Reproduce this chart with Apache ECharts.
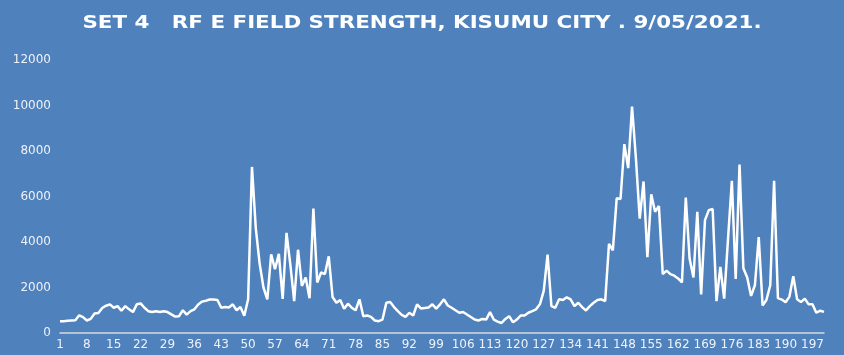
<!DOCTYPE html>
<html>
<head>
<meta charset="utf-8">
<script src="https://cdn.jsdelivr.net/npm/echarts@6/dist/echarts.min.js"></script>
<style>html,body{margin:0;padding:0;background:#4f81bd;}#c{width:844px;height:355px;}</style>
</head>
<body>
<div id="c"></div>
<script>
const titleText = 'SET 4   RF E FIELD STRENGTH, KISUMU CITY . 9/05/2021.';
const categories = [];
for (let i = 1; i <= 200; i++) categories.push(String(i));
const yTicks = [0, 2000, 4000, 6000, 8000, 10000, 12000];
const values1 = [520,520,540,550,560,780,700,550,620,860,880,1100,1200,1260,1110,1180,980,1180,1040,920,
  1260,1300,1110,960,920,960,920,960,920,820,720,740,1000,810,960,1040,1250,1380,1420,1470,
  1470,1450,1110,1140,1120,1260,1000,1140,760,1480];
const values2 = [7300,4600,3050,2000,1480,3460,2810,3480,1500,4400,3000,1400,3660,2070,2440,1530,5470,2220,2660,2590,
  3370,1580,1330,1450,1070,1290,1110,1000,1480,740,770,710,550,520,590,1330,1360,1140,960,800,
  710,890,770,1260,1080,1100,1120,1260,1070,1260];
const values3 = [1480,1210,1110,1000,890,920,810,700,590,550,620,590,920,590,500,440,620,740,470,590,
  770,770,890,960,1040,1260,1850,3450,1180,1110,1480,1450,1570,1480,1180,1330,1140,990,1180,1330,
  1450,1480,1400,3920,3630,5920,5890,8300,7250,9950];
const values4 = [7700,5030,6660,3330,6100,5330,5580,2590,2740,2590,2520,2400,2220,5950,3260,2440,5330,1700,4960,5400,
  5450,1400,2910,1510,4140,6690,2380,7400,2850,2440,1630,2100,4220,1210,1450,2100,6690,1530,1470,1350,
  1600,2500,1480,1360,1510,1260,1260,890,980,930];
const values = values1.concat(values2, values3, values4);

const chart = echarts.init(document.getElementById('c'), null, {renderer: 'canvas'});
chart.setOption({
  backgroundColor: '#4f81bd',
  animation: false,
  graphic: [{
    type: 'text',
    x: 422,
    y: 23,
    scaleX: 1.19,
    style: {
      text: titleText,
      fill: '#ffffff',
      font: 'bold 18px "DejaVu Sans"',
      textAlign: 'center',
      textVerticalAlign: 'middle'
    }
  }],
  grid: {left: 60, right: 20, top: 60, bottom: 22, containLabel: false},
  xAxis: {
    type: 'category',
    data: categories,
    boundaryGap: false,
    axisLine: {show: true, lineStyle: {color: '#d9d9d9', width: 1.5}},
    axisTick: {show: false},
    axisLabel: {interval: 6, color: '#eef2f8', fontFamily: 'DejaVu Sans', fontSize: 12, margin: 6},
    splitLine: {show: false}
  },
  yAxis: {
    type: 'value',
    min: yTicks[0],
    max: yTicks[yTicks.length - 1],
    interval: 2000,
    axisLine: {show: false},
    axisTick: {show: false},
    axisLabel: {color: '#eef2f8', fontFamily: 'DejaVu Sans', fontSize: 12, margin: 9, formatter: v => String(v)},
    splitLine: {show: false}
  },
  series: [{
    type: 'line',
    data: values,
    showSymbol: false,
    symbol: 'none',
    lineStyle: {color: '#ffffff', width: 2.5},
    smooth: false
  }]
});
</script>
</body>
</html>
